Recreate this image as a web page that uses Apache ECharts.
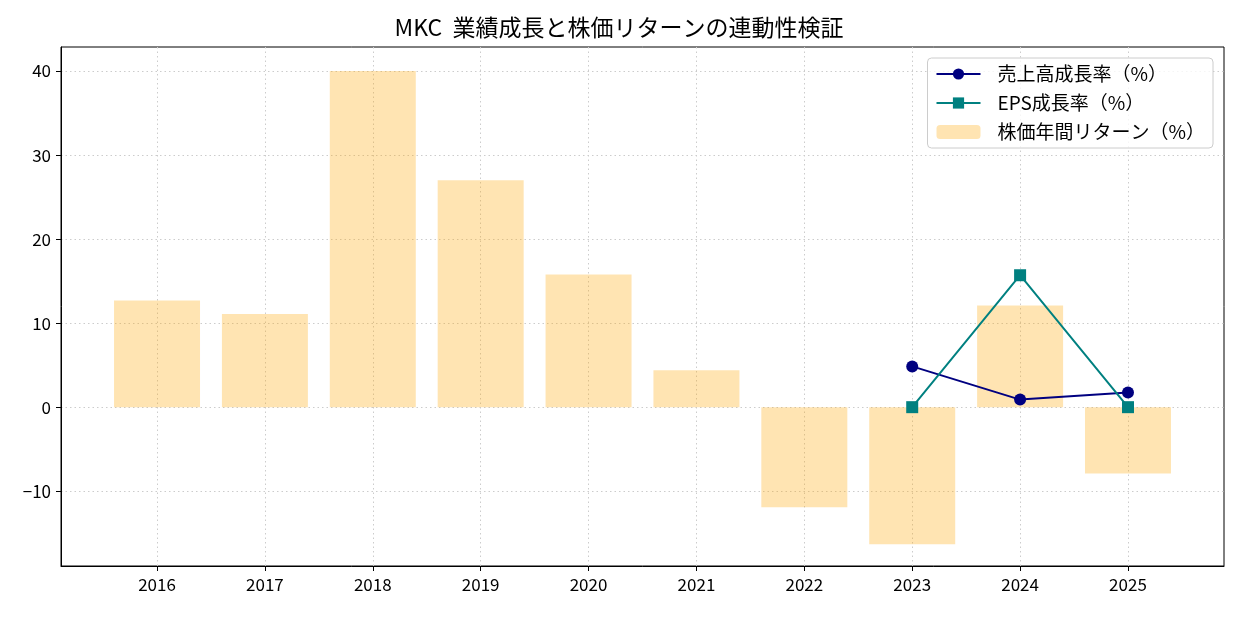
<!DOCTYPE html>
<html><head><meta charset="utf-8">
<script src="https://cdn.jsdelivr.net/npm/echarts@6/dist/echarts.min.js"></script>
<style>html,body{margin:0;padding:0;background:#fff}#c{width:1238px;height:617px}</style>
</head><body><div id="c"></div>
<script>
const years = ['2016','2017','2018','2019','2020','2021','2022','2023','2024','2025'];
const stockReturn = [12.7, 11.1, 40.0, 27.0, 15.8, 4.4, -11.9, -16.3, 12.1, -7.9];
const salesGrowth = [null, null, null, null, null, null, null, 4.85, 0.9, 1.75];
const epsGrowth = [null, null, null, null, null, null, null, 0.0, 15.7, 0.0];
const yTicks = [-10, 0, 10, 20, 30, 40];
const FONT = '"Noto Sans CJK JP", sans-serif';

const idx = years.map((_, i) => i);
const toPts = arr => arr.map((v, i) => v === null ? null : [i, v]).filter(p => p);

const chart = echarts.init(document.getElementById('c'), null, {renderer: 'canvas'});
chart.setOption({
  animation: false,
  textStyle: {fontFamily: FONT},
  title: {text: 'MKC  業績成長と株価リターンの連動性検証', left: 'center', top: 11,
    textStyle: {fontFamily: FONT, fontSize: 23, fontWeight: 'normal', color: '#000'}},
  grid: {left: 61, right: 14, top: 47, bottom: 51, show: true, borderColor: '#000', borderWidth: 1, containLabel: false},
  legend: {
    right: 25, top: 58, orient: 'vertical', itemGap: 9, itemWidth: 44, itemHeight: 14,
    padding: [6, 8, 6, 8],
    borderColor: '#ccc', borderWidth: 1, borderRadius: 4, backgroundColor: 'rgba(255,255,255,0.8)',
    textStyle: {fontFamily: FONT, fontSize: 19, lineHeight: 20, color: '#000', padding: [0, 0, 0, 12]},
    data: ['売上高成長率（%）', 'EPS成長率（%）', '株価年間リターン（%）']
  },
  xAxis: {
    type: 'value', min: -0.89, max: 9.89,
    axisLine: {show: true, onZero: false, lineStyle: {color: '#000'}},
    axisTick: {show: true, customValues: idx, length: 5, lineStyle: {color: '#000'}},
    axisLabel: {customValues: idx, formatter: v => years[Math.round(v)], fontFamily: FONT, fontSize: 17, color: '#000', margin: 10},
    splitLine: {show: true, lineStyle: {color: '#ccc', type: [1.5, 3], width: 1}}
  },
  yAxis: {
    type: 'value', min: -18.9, max: 42.86,
    axisLine: {show: true, onZero: false, lineStyle: {color: '#000'}},
    axisTick: {show: true, customValues: yTicks, length: 5, lineStyle: {color: '#000'}},
    axisLabel: {customValues: yTicks, formatter: v => String(v).replace('-', '\u2212'), fontFamily: FONT, fontSize: 17, color: '#000', margin: 10},
    splitLine: {show: true, lineStyle: {color: '#ccc', type: [1.5, 3], width: 1}}
  },
  series: [
    {name: '株価年間リターン（%）', type: 'bar', data: toPts(stockReturn), barWidth: 86,
      itemStyle: {color: 'rgba(255,165,0,0.3)'}, z: 1},
    {name: '売上高成長率（%）', type: 'line', data: toPts(salesGrowth), symbol: 'circle', symbolSize: 12,
      lineStyle: {color: '#000080', width: 2}, itemStyle: {color: '#000080'}, z: 3},
    {name: 'EPS成長率（%）', type: 'line', data: toPts(epsGrowth), symbol: 'rect', symbolSize: 12,
      lineStyle: {color: '#008080', width: 2}, itemStyle: {color: '#008080'}, z: 3}
  ]
});
</script></body></html>
